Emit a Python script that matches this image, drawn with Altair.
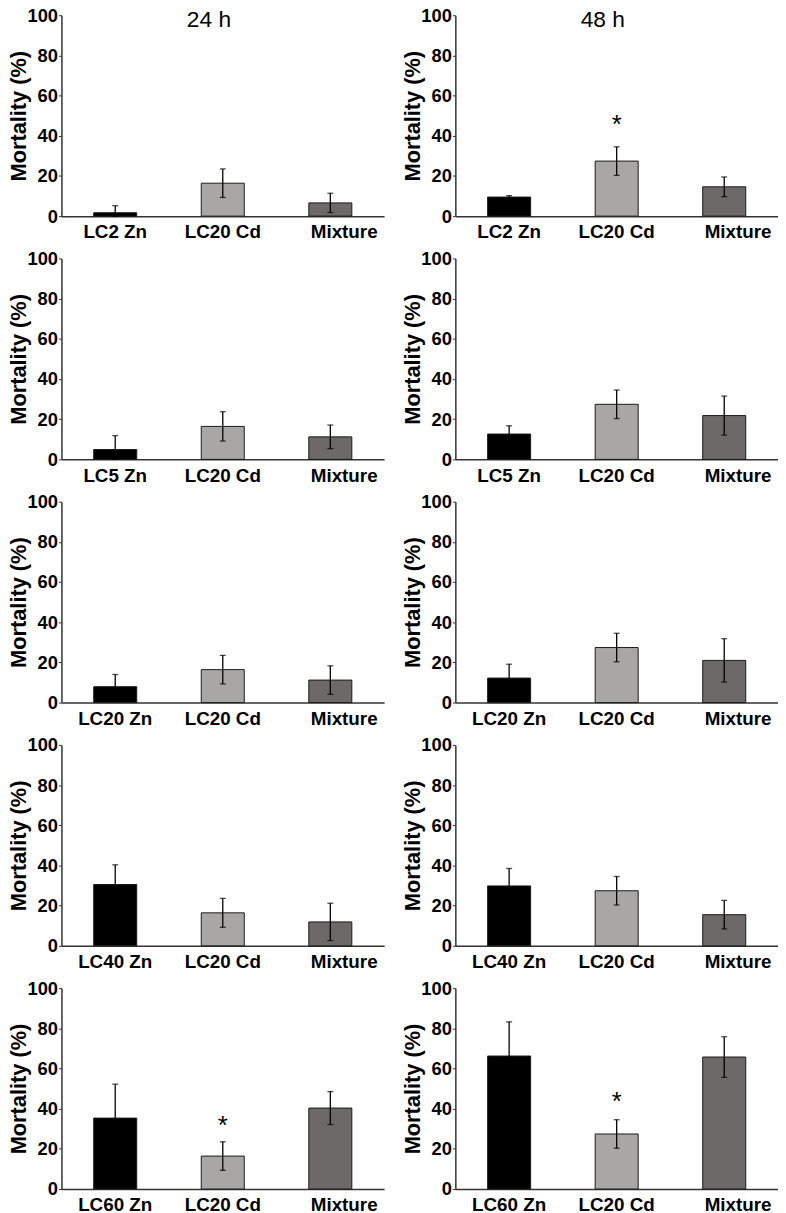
import altair as alt
import pandas as pd

rows = ["LC2", "LC5", "LC20", "LC40", "LC60"]
times = ["24 h", "48 h"]
groups = ["Zn", "Cd", "Mix"]
group_colors = ["#000000", "#a9a7a6", "#6d6968"]

# 24 h
zn_24 = [1.7, 4.9, 7.9, 30.5, 35.3]
zn_24_err = [3.5, 6.9, 6.1, 9.8, 16.9]
cd_24 = [16.4, 16.4, 16.4, 16.4, 16.4]
cd_24_err = [7.1, 7.3, 7.1, 7.2, 7.1]
mix_24 = [6.6, 11.2, 11.2, 11.9, 40.3]
mix_24_err = [4.8, 5.9, 7.1, 9.3, 8.2]
star_24 = [None, None, None, None, 35.0]

# 48 h
zn_48 = [9.5, 12.6, 12.2, 29.8, 66.2]
zn_48_err = [0.7, 4.1, 6.9, 8.7, 17.0]
cd_48 = [27.4, 27.4, 27.4, 27.4, 27.4]
cd_48_err = [7.1, 7.1, 7.1, 7.1, 7.1]
mix_48 = [14.6, 21.8, 21.0, 15.5, 65.7]
mix_48_err = [4.9, 9.7, 10.8, 7.1, 10.1]
star_48 = [48.9, None, None, None, 46.8]

# column headings (drawn inside the top panels)
heading_y = [97.8, 97.8]

series = {
    "24 h": (zn_24, zn_24_err, cd_24, cd_24_err, mix_24, mix_24_err, star_24),
    "48 h": (zn_48, zn_48_err, cd_48, cd_48_err, mix_48, mix_48_err, star_48),
}

FONT = "Liberation Sans"
AXIS_COLOR = "#333333"
YT = "Mortality (%)"


def panel(r, ti, t):
    zn, zne, cd, cde, mx, mxe, st = series[t]
    labels = [f"{rows[r]} Zn", "LC20 Cd", "Mixture"]
    vals = [zn[r], cd[r], mx[r]]
    errs = [zne[r], cde[r], mxe[r]]
    df = pd.DataFrame({
        "label": labels,
        "group": groups,
        "value": vals,
        "lo": [max(v - e, 0) for v, e in zip(vals, errs)],
        "hi": [v + e for v, e in zip(vals, errs)],
    })
    xenc = alt.X(
        "label:N", sort=labels, title=None,
        scale=alt.Scale(paddingInner=0.6, paddingOuter=0.3),
        axis=alt.Axis(
            labelAngle=0, ticks=False, labelPadding=7, labelFontSize=19,
            labelFontWeight="bold", labelColor="black", domainColor=AXIS_COLOR,
            domainWidth=1.5,
            labelOffset={"condition": {"test": "datum.value === 'Mixture'", "value": 14}, "value": 0},
        ),
    )
    yscale = alt.Scale(domain=[0, 100])
    yaxis = alt.Axis(
        values=[0, 20, 40, 60, 80, 100], grid=False, tickSize=3, tickColor=AXIS_COLOR,
        labelPadding=1, labelFontSize=18.5, labelFontWeight="bold", labelColor="black",
        domainColor=AXIS_COLOR, domainWidth=1.5, titleFontSize=22, titleFontWeight="bold",
        titleColor="black", titlePadding=-4,
    )
    base = alt.Chart(df).encode(x=xenc)
    bars = base.mark_bar(stroke="#1a1a1a", strokeWidth=1).encode(
        y=alt.Y("value:Q", scale=yscale, axis=yaxis, title=YT),
        color=alt.Color("group:N", scale=alt.Scale(domain=groups, range=group_colors), legend=None),
    )
    rule = base.mark_rule(color="black", strokeWidth=1.3).encode(
        y=alt.Y("lo:Q", scale=yscale, axis=yaxis, title=YT), y2="hi:Q"
    )
    cap_hi = base.mark_tick(color="black", size=6, thickness=1.3).encode(
        y=alt.Y("hi:Q", scale=yscale, axis=yaxis, title=YT)
    )
    cap_lo = base.mark_tick(color="black", size=6, thickness=1.3).encode(
        y=alt.Y("lo:Q", scale=yscale, axis=yaxis, title=YT)
    )
    layers = [bars, rule, cap_hi, cap_lo]
    if st[r] is not None:
        sdf = pd.DataFrame({"label": ["LC20 Cd"], "star": [st[r]]})
        star = alt.Chart(sdf).mark_text(
            text="*", fontSize=26, baseline="alphabetic", dy=15, color="black", font=FONT
        ).encode(x=xenc, y=alt.Y("star:Q", scale=yscale, axis=yaxis, title=YT))
        layers.append(star)
    if r == 0:
        hdf = pd.DataFrame({"label": ["LC20 Cd"], "hy": [heading_y[ti]], "txt": [t]})
        head = alt.Chart(hdf).mark_text(
            fontSize=23, baseline="middle", dx=-14, color="black", font=FONT
        ).encode(x=xenc, y=alt.Y("hy:Q", scale=yscale, axis=yaxis, title=YT), text="txt:N")
        layers.append(head)
    return alt.layer(*layers).properties(width=326, height=203)


panels = []
for r in range(len(rows)):
    for ti, t in enumerate(times):
        panels.append(panel(r, ti, t))

chart = (
    alt.concat(*panels, columns=2, spacing={"row": 42.75, "column": 72}, bounds="flush")
    .properties(padding={"left": 0, "top": -8, "right": 0, "bottom": 0})
    .configure(font=FONT)
    .configure_view(stroke=None)
)

chart.save("out.html", embed_options={"renderer": "svg", "actions": False})
